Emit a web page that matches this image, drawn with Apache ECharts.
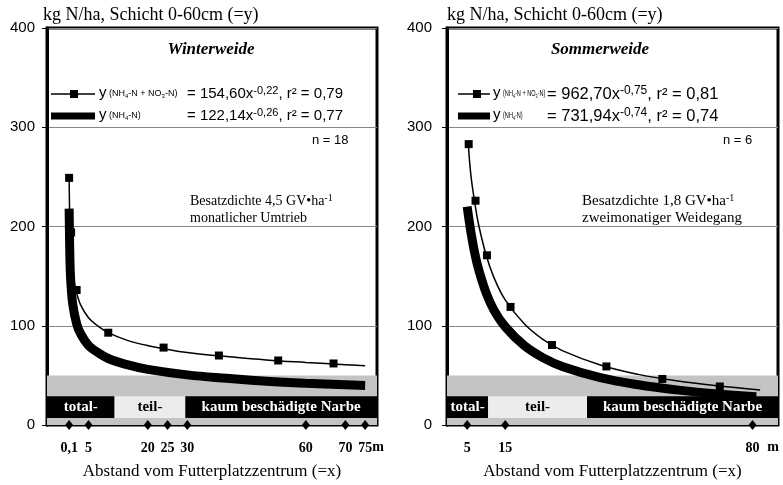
<!DOCTYPE html>
<html><head><meta charset="utf-8">
<script src="https://cdn.jsdelivr.net/npm/echarts@6/dist/echarts.min.js"></script>
<style>html,body{margin:0;padding:0;background:#fff}#c{width:783px;height:485px}</style>
</head><body><div id="c"></div>
<script>
// ---- data ----
const yTickValues = [0, 100, 200, 300, 400];
const winterTickX = [0.1, 5, 20, 25, 30, 60, 70, 75];
const sommerTickX = [5, 15, 80];

// Winterweide: NH4-N + NO3-N (fitted curve and measured squares)
const winterTotalCurve = [[0.1,250],[0.3,201],[0.6,172],[1,155],[1.5,141],[2,133],[3,121],[5,108],[7,101],[10,93],[15,85],[20,80],[30,73],[40,69],[50,65.5],[60,63],[70,60.8],[75,59.8]];
const winterTotalPoints = [[0.1,249],[0.6,194],[2,136],[10,93],[24,78],[38,70],[53,65],[67,62]];
// Winterweide: NH4-N (fitted curve)
const winterNH4Curve = [[0.1,218],[0.3,167],[0.5,146],[1,122],[2,102],[3,92],[5,80],[7,74],[10,67],[15,60.5],[20,56],[30,50.5],[40,47],[50,44],[60,42],[75,39.8]];

// Sommerweide
const sommerTotalCurve = [[5.3,283],[6,251],[7,224],[8,202],[10,171],[12,149],[15,126],[20,102],[25,86],[30,75],[40,60.5],[50,51],[60,44.6],[70,39.8],[82,35.3]];
const sommerTotalPoints = [[5.4,283],[7.2,226],[10.2,171],[16.4,119],[27.3,80.6],[41.6,59],[56.3,46.4],[71.4,38.8]];
const sommerNH4Curve = [[5,220],[6,194],[7,173],[8,157],[10,133],[12,116],[15,99],[20,80],[25,67.6],[30,59],[40,47.7],[50,40.5],[60,35.4],[70,31.5],[81,28.5]];

// sward damage zones (x limits) and bands (y limits)
const winterZoneEdges = [11.6, 29.5];
const sommerZoneEdges = [10.5, 36.5];
const zoneNames = ['total-', 'teil-', 'kaum beschädigte Narbe'];
const grayBand = [0, 50];
const zoneBand = [7, 29];

const winterX = [-5.5, 78];
const sommerX = [-0.3, 86.7];

// ---- chart ----
const SERIF = "'Liberation Serif','Times New Roman',serif";
const SANS = "'Liberation Sans',Arial,sans-serif";

function zoneAreas(xr, edges) {
  const b = [xr[0], edges[0], edges[1], xr[1]];
  const areas = [[{xAxis: xr[0], yAxis: grayBand[0], itemStyle: {color: '#c4c4c4'}}, {xAxis: xr[1], yAxis: grayBand[1]}]];
  zoneNames.forEach((n, i) => {
    const light = i === 1;
    areas.push([{name: n, xAxis: b[i], yAxis: zoneBand[0],
      itemStyle: {color: light ? '#ececec' : '#000'},
      label: {color: light ? '#000' : '#fff'}}, {xAxis: b[i + 1], yAxis: zoneBand[1]}]);
  });
  return areas;
}

function xAxisCfg(idx, xr, ticks) {
  return {
    type: 'value', gridIndex: idx, min: xr[0], max: xr[1],
    axisLine: {show: true, onZero: false, lineStyle: {color: '#000', width: 2}},
    axisTick: {show: false},
    splitLine: {show: false},
    axisLabel: {customValues: ticks, margin: 16, color: '#000', fontFamily: SERIF, fontWeight: 'bold', fontSize: 14,
      formatter: v => String(v).replace('.', ',')},
    name: 'Abstand vom Futterplatzzentrum (=x)', nameLocation: 'middle', nameGap: 38,
    nameTextStyle: {color: '#000', fontFamily: SERIF, fontSize: 17}
  };
}
function yAxisCfg(idx, margin) {
  return {
    type: 'value', gridIndex: idx, min: 0, max: 400, interval: 100,
    axisLine: {show: true, onZero: false, lineStyle: {color: '#000', width: 3}},
    axisTick: {show: true, length: 5, lineStyle: {color: '#000'}},
    splitLine: {show: true, lineStyle: {color: '#888', width: 1}},
    axisLabel: {margin: margin, color: '#000', fontFamily: SANS, fontSize: 15}
  };
}

function panelSeries(idx, totalCurve, totalPts, nh4Curve, xr, edges, ticks) {
  return [
    {type: 'line', xAxisIndex: idx, yAxisIndex: idx, data: nh4Curve, smooth: 0.4, showSymbol: false,
      lineStyle: {color: '#000', width: 9, cap: 'butt'}, z: 3,
      markArea: {silent: true, data: zoneAreas(xr, edges),
        label: {show: true, position: 'inside', fontFamily: SERIF, fontWeight: 'bold', fontSize: 15}}},
    {type: 'line', xAxisIndex: idx, yAxisIndex: idx, data: totalCurve, smooth: 0.4, showSymbol: false,
      lineStyle: {color: '#000', width: 1.5}, z: 4},
    {type: 'scatter', xAxisIndex: idx, yAxisIndex: idx, data: totalPts, symbol: 'rect', symbolSize: 8,
      itemStyle: {color: '#000', opacity: 1}, z: 5},
    {type: 'scatter', xAxisIndex: idx, yAxisIndex: idx, data: ticks.map(t => [t, 0]), symbol: 'diamond',
      symbolSize: [8, 10], itemStyle: {color: '#000', opacity: 1}, z: 6, clip: false}
  ];
}

const smallRich = {
  s: {fontFamily: SANS, fontSize: 9, color: '#000'},
  sub: {fontFamily: SANS, fontSize: 6, color: '#000', verticalAlign: 'bottom', padding: [4, 0, 0, 0]}
};
function eqRich(fs) {
  return {
    e: {fontFamily: SANS, fontSize: fs, color: '#000'},
    sup: {fontFamily: SANS, fontSize: Math.round(fs * 0.7), color: '#000', verticalAlign: 'top', padding: [0, 0, 6, 0]}
  };
}
function txt(x, y, text, font, size, opts, extra) {
  return Object.assign({type: 'text', x: x, y: y, z: 100,
    style: Object.assign({text: text, fontFamily: font, fontSize: size, fill: '#000', textVerticalAlign: 'middle'}, opts || {})}, extra || {});
}

function legendGraphics(p) {
  const sc = {scaleX: p.sx};
  return [
    {type: 'line', z: 100, shape: {x1: p.lx1, y1: 94, x2: p.lx2, y2: 94}, style: {stroke: '#000', lineWidth: 1.5}},
    {type: 'rect', z: 100, shape: {x: p.sq - 4, y: 90, width: 8, height: 8}, style: {fill: '#000'}},
    {type: 'rect', z: 100, shape: {x: p.lx1, y: 112.5, width: p.lx2 - p.lx1, height: 7}, style: {fill: '#000'}},
    txt(p.tx, 93, 'y', SANS, 15),
    txt(p.tx, 115, 'y', SANS, 15),
    txt(p.tx + 10, 94, '{s|(NH}{sub|4}{s|-N + NO}{sub|3}{s|-N)}', SANS, 9, {rich: smallRich}, sc),
    txt(p.tx + 10, 116, '{s|(NH}{sub|4}{s|-N)}', SANS, 9, {rich: smallRich}, sc),
    txt(p.ex, 94, '{e|= ' + p.eq1[0] + 'x}{sup|' + p.eq1[1] + '}{e|, r² = ' + p.eq1[2] + '}', SANS, p.fs, {rich: eqRich(p.fs)}),
    txt(p.ex, 116, '{e|= ' + p.eq2[0] + 'x}{sup|' + p.eq2[1] + '}{e|, r² = ' + p.eq2[2] + '}', SANS, p.fs, {rich: eqRich(p.fs)})
  ];
}

const supRichSerif = {sup: {fontFamily: SERIF, fontSize: 10, verticalAlign: 'top', padding: [0, 0, 6, 0]}};
const graphics = [].concat(
  txt(43, 15, 'kg N/ha, Schicht 0-60cm (=y)', SERIF, 18),
  txt(447, 15, 'kg N/ha, Schicht 0-60cm (=y)', SERIF, 18),
  txt(211, 50, 'Winterweide', SERIF, 17, {fontWeight: 'bold', fontStyle: 'italic', textAlign: 'center'}),
  txt(600, 50, 'Sommerweide', SERIF, 17, {fontWeight: 'bold', fontStyle: 'italic', textAlign: 'center'}),
  legendGraphics({lx1: 51, lx2: 95, sq: 74, tx: 99, ex: 187, fs: 15, sx: 1, eq1: ['154,60', '-0,22', '0,79'], eq2: ['122,14', '-0,26', '0,77']}),
  legendGraphics({lx1: 458, lx2: 490, sq: 477, tx: 493, ex: 547, fs: 16.5, sx: 0.62, eq1: ['962,70', '-0,75', '0,81'], eq2: ['731,94', '-0,74', '0,74']}),
  txt(312, 140, 'n = 18', SANS, 13),
  txt(723, 140, 'n = 6', SANS, 13),
  txt(190, 201, 'Besatzdichte 4,5 GV•ha{sup|-1}', SERIF, 14, {rich: supRichSerif}),
  txt(190, 218, 'monatlicher Umtrieb', SERIF, 14),
  txt(582, 201, 'Besatzdichte 1,8 GV•ha{sup|-1}', SERIF, 15, {rich: supRichSerif}),
  txt(582, 218, 'zweimonatiger Weidegang', SERIF, 15),
  txt(378, 447, 'm', SERIF, 14, {fontWeight: 'bold', textAlign: 'center'}),
  txt(773, 447, 'm', SERIF, 14, {fontWeight: 'bold', textAlign: 'center'})
);

const chart = echarts.init(document.getElementById('c'), null, {renderer: 'canvas'});
chart.setOption({
  animation: false,
  backgroundColor: '#fff',
  grid: [
    {left: 47, top: 28, width: 330, height: 403, show: true, borderColor: '#000', borderWidth: 3, backgroundColor: 'transparent'},
    {left: 447, top: 28, width: 331, height: 403, show: true, borderColor: '#000', borderWidth: 3, backgroundColor: 'transparent'}
  ],
  xAxis: [xAxisCfg(0, winterX, winterTickX), xAxisCfg(1, sommerX, sommerTickX)],
  yAxis: [yAxisCfg(0, 12), yAxisCfg(1, 15)],
  series: [].concat(
    panelSeries(0, winterTotalCurve, winterTotalPoints, winterNH4Curve, winterX, winterZoneEdges, winterTickX),
    panelSeries(1, sommerTotalCurve, sommerTotalPoints, sommerNH4Curve, sommerX, sommerZoneEdges, sommerTickX)
  ),
  graphic: graphics
});
</script></body></html>
